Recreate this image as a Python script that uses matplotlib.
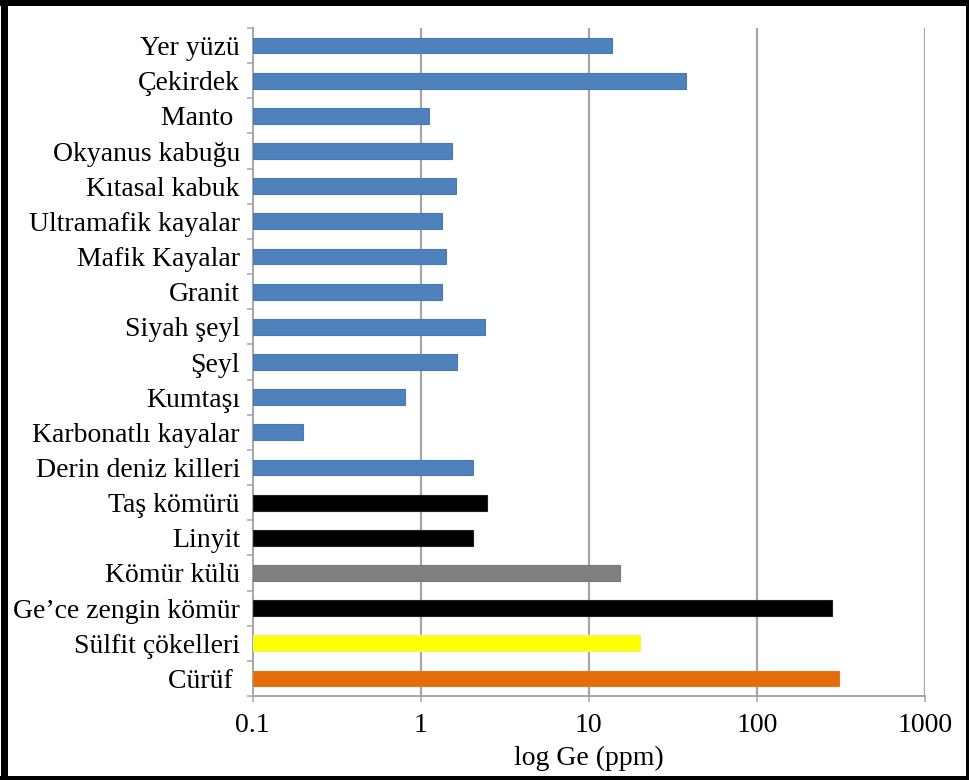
import matplotlib
matplotlib.use("Agg")
import matplotlib.pyplot as plt
from matplotlib.patches import Rectangle
from matplotlib.ticker import FixedLocator, FixedFormatter, NullLocator

plt.rcParams['font.family'] = ['Liberation Serif', 'DejaVu Serif']

# Ge contents (ppm) per material
labels = ["Yer yüzü", "Çekirdek", "Manto ", "Okyanus kabuğu", "Kıtasal kabuk",
          "Ultramafik kayalar", "Mafik Kayalar", "Granit", "Siyah şeyl", "Şeyl",
          "Kumtaşı", "Karbonatlı kayalar", "Derin deniz killeri", "Taş kömürü",
          "Linyit", "Kömür külü", "Ge’ce zengin kömür", "Sülfit çökelleri", "Cürüf "]
values = [13.7, 37.7, 1.12, 1.54, 1.62, 1.34, 1.42, 1.34, 2.43, 1.64,
          0.81, 0.2, 2.04, 2.47, 2.04, 15.4, 279, 20.3, 309]
colors = ["#4F81BD"] * 13 + ["#000000", "#000000", "#808080", "#000000",
                             "#FFFF00", "#E46C0A"]
edges = ["#4a7ab5"] * 13 + ["#222222", "#222222", "#7a7a7a", "#222222",
                            "#f5f06a", "#e07a20"]

xticks = [0.1, 1, 10, 100, 1000]
xticklabels = ["0.1", "1", "10", "100", "1000"]
base = 0.1

fig = plt.figure(figsize=(9.7, 7.8), dpi=100)
ax = fig.add_axes([252.5 / 970, 84 / 780, 672.5 / 970, 668 / 780])

ypos = list(range(len(labels)))
ax.barh(ypos, [v - base for v in values], left=base, height=0.45,
        color=colors, edgecolor=edges, linewidth=0.8, zorder=3)

ax.set_xscale("log")
ax.set_xlim(0.1, 1000)
ax.set_ylim(len(labels) - 0.5, -0.5)

ax.xaxis.set_major_locator(FixedLocator(xticks))
ax.xaxis.set_major_formatter(FixedFormatter(xticklabels))
ax.xaxis.set_minor_locator(NullLocator())
ax.set_yticks(ypos)
ax.set_yticklabels(labels)
ax.set_yticks([y - 0.5 for y in range(len(labels) + 1)], minor=True)

ax.tick_params(axis="y", which="major", length=0, pad=9, labelsize=20)
ax.tick_params(axis="y", which="minor", length=4.3, width=1.1, color="#a6a6a6")
ax.tick_params(axis="x", which="major", length=4, width=1.1, color="#a6a6a6",
               pad=8, labelsize=20)
ax.set_xlabel("log Ge (ppm)", fontsize=20, labelpad=6)

for x in xticks[1:]:
    ax.axvline(x, color="#a6a6a6", linewidth=1.6, zorder=1)

for side in ["top", "right"]:
    ax.spines[side].set_visible(False)
for side in ["left", "bottom"]:
    ax.spines[side].set_color("#a6a6a6")
    ax.spines[side].set_linewidth(1.4)

# black frame round the figure
W, H = 970, 780
for x0, y0, w, h in [(0, H - 6, W, 6), (0, 0, W, 4), (1, 0, 7, H), (966, 0, 3, H)]:
    fig.add_artist(Rectangle((x0 / W, y0 / H), w / W, h / H, transform=fig.transFigure,
                             facecolor="black", edgecolor="none"))

fig.savefig("out.png", dpi=100, facecolor="white")
